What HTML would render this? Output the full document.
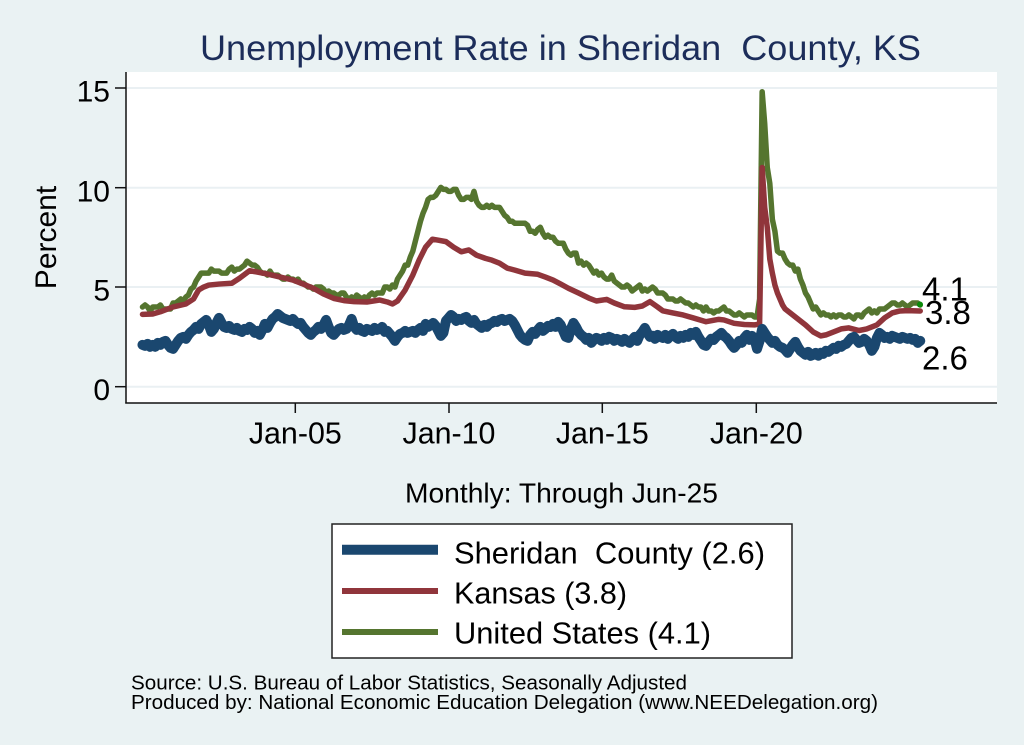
<!DOCTYPE html>
<html>
<head>
<meta charset="utf-8">
<style>
  html,body{margin:0;padding:0;background:#eaf2f3;}
  svg{display:block;}
  text{font-family:"Liberation Sans", Arial, Helvetica, sans-serif;}
</style>
</head>
<body>
<svg width="1024" height="745" viewBox="0 0 1024 745" xmlns="http://www.w3.org/2000/svg">
  <rect x="0" y="0" width="1024" height="745" fill="#eaf2f3"/>
  <!-- Title -->
  <text x="200" y="60" font-size="35.5" fill="#1c2d5a" textLength="721" lengthAdjust="spacingAndGlyphs">Unemployment Rate in Sheridan&#160; County, KS</text>

  <!-- plot region -->
  <rect x="126" y="72" width="871" height="331" fill="#ffffff"/>
  <!-- gridlines -->
  <g stroke="#eaf0f3" stroke-width="2">
    <line x1="126" y1="88" x2="997" y2="88"/>
    <line x1="126" y1="187.7" x2="997" y2="187.7"/>
    <line x1="126" y1="287" x2="997" y2="287"/>
    <line x1="126" y1="386.7" x2="997" y2="386.7"/>
  </g>

  <!-- series -->
  <g transform="translate(142.5,386.7) scale(2.55,-19.93)" fill="none" stroke-linejoin="round" stroke-linecap="round">
    <polyline vector-effect="non-scaling-stroke" stroke="#55752f" stroke-width="5.5" points="0,4 1,4.1 2,4 3,3.8 4,4 5,4 6,4 7,4.1 8,3.9 9,3.9 10,3.9 11,3.9 12,4.2 13,4.2 14,4.3 15,4.4 16,4.3 17,4.5 18,4.6 19,4.9 20,5 21,5.3 22,5.5 23,5.7 24,5.7 25,5.7 26,5.7 27,5.9 28,5.8 29,5.8 30,5.8 31,5.7 32,5.7 33,5.7 34,5.9 35,6 36,5.8 37,5.9 38,5.9 39,6 40,6.1 41,6.3 42,6.2 43,6.1 44,6.1 45,6 46,5.8 47,5.7 48,5.7 49,5.6 50,5.8 51,5.6 52,5.6 53,5.6 54,5.5 55,5.4 56,5.4 57,5.5 58,5.4 59,5.4 60,5.3 61,5.4 62,5.2 63,5.2 64,5.1 65,5 66,5 67,4.9 68,5 69,5 70,5 71,4.9 72,4.7 73,4.8 74,4.7 75,4.7 76,4.6 77,4.6 78,4.7 79,4.7 80,4.5 81,4.4 82,4.5 83,4.4 84,4.6 85,4.5 86,4.4 87,4.5 88,4.4 89,4.6 90,4.7 91,4.6 92,4.7 93,4.7 94,4.7 95,5 96,5 97,4.9 98,5.1 99,5 100,5.4 101,5.6 102,5.8 103,6.1 104,6.1 105,6.5 106,6.8 107,7.3 108,7.8 109,8.3 110,8.7 111,9 112,9.4 113,9.5 114,9.5 115,9.6 116,9.8 117,10 118,9.9 119,9.9 120,9.8 121,9.8 122,9.9 123,9.9 124,9.6 125,9.4 126,9.4 127,9.5 128,9.5 129,9.4 130,9.8 131,9.3 132,9.1 133,9 134,9 135,9.1 136,9 137,9.1 138,9 139,9 140,9 141,8.8 142,8.6 143,8.5 144,8.3 145,8.3 146,8.2 147,8.2 148,8.2 149,8.2 150,8.2 151,8.1 152,7.8 153,7.8 154,7.7 155,7.9 156,8 157,7.7 158,7.5 159,7.6 160,7.5 161,7.5 162,7.3 163,7.2 164,7.2 165,7.2 166,6.9 167,6.7 168,6.6 169,6.7 170,6.7 171,6.2 172,6.3 173,6.1 174,6.2 175,6.1 176,5.9 177,5.7 178,5.8 179,5.6 180,5.7 181,5.5 182,5.4 183,5.4 184,5.6 185,5.3 186,5.2 187,5.1 188,5 189,5 190,5.1 191,5 192,4.8 193,4.9 194,5 195,5.1 196,4.8 197,4.9 198,4.8 199,4.9 200,5 201,4.9 202,4.7 203,4.7 204,4.7 205,4.6 206,4.4 207,4.4 208,4.4 209,4.3 210,4.3 211,4.4 212,4.3 213,4.2 214,4.2 215,4.1 216,4 217,4.1 218,4 219,4 220,3.8 221,4 222,3.8 223,3.8 224,3.7 225,3.8 226,3.8 227,3.9 228,4 229,3.8 230,3.8 231,3.7 232,3.6 233,3.6 234,3.7 235,3.6 236,3.5 237,3.6 238,3.6 239,3.6 240,3.5 241,3.5 242,4.4 243,14.8 244,13.2 245,11 246,10.2 247,8.4 248,7.8 249,6.8 250,6.7 251,6.7 252,6.4 253,6.2 254,6.1 255,6.1 256,5.8 257,5.9 258,5.4 259,5.1 260,4.7 261,4.5 262,4.2 263,3.9 264,4 265,3.8 266,3.6 267,3.7 268,3.6 269,3.6 270,3.5 271,3.6 272,3.5 273,3.6 274,3.6 275,3.5 276,3.5 277,3.6 278,3.5 279,3.4 280,3.6 281,3.6 282,3.5 283,3.7 284,3.8 285,3.9 286,3.7 287,3.8 288,3.7 289,3.9 290,3.9 291,3.9 292,4 293,4.1 294,4.2 295,4.2 296,4.1 297,4.1 298,4.2 299,4.1 300,4 301,4.1 302,4.2 303,4.2 304,4.2 305,4.1"/>
    <polyline vector-effect="non-scaling-stroke" stroke="#90353b" stroke-width="5.5" points="0,3.63 4,3.65 7,3.76 12,4 17,4.15 20,4.4 22,4.85 24,5 26,5.1 30,5.15 35,5.19 38,5.44 42,5.82 45,5.75 49,5.65 54,5.5 59,5.35 63,5.15 67,4.94 71,4.65 75,4.43 79,4.32 83,4.27 88,4.25 93,4.35 96,4.25 98,4.15 100,4.3 103,4.85 106,5.6 108.5,6.36 111,7 113.7,7.4 116,7.35 119,7.28 122,7 125,6.77 128,6.86 131,6.6 134.5,6.44 137,6.35 140,6.2 143,5.95 146,5.85 150,5.7 155,5.64 158,5.5 161,5.35 164,5.15 167,4.94 171,4.7 175,4.45 178,4.3 182,4.38 185,4.2 189,4.01 193,3.98 196,4.05 199,4.27 202,4 204,3.81 208,3.7 212,3.6 216,3.45 221,3.26 226,3.38 228,3.35 232,3.18 236,3.12 240,3.1 242,3.15 243,11 244,9 245,8 246,6.4 247,5.7 248,5.1 249,4.7 250,4.4 251,4.1 252,3.9 254,3.7 257,3.4 260,3.1 263,2.75 266,2.55 268,2.6 271,2.75 274,2.9 277,2.95 281,2.82 284,2.9 288,3.1 291,3.45 294,3.7 297,3.8 300,3.82 305,3.8"/>
    <polyline vector-effect="non-scaling-stroke" stroke="#1a476f" stroke-width="10" points="0,2.1 1,2.05 2,2.15 3,2 4,2.1 5,2 6,2.2 7,2.1 8,2.25 9,2.3 10,2.1 11,1.95 12,1.9 13,2.1 14,2.3 15,2.45 16,2.5 17,2.4 18,2.6 19,2.75 20,2.85 21,3 22,2.9 23,3.15 24,3.25 25,3.35 26,3.1 27,2.75 28,2.9 29,3.2 30,3.45 31,3.2 32,3 33,2.95 34,3.05 35,2.9 36,2.85 37,2.95 38,2.8 39,2.75 40,2.9 41,2.85 42,3 43,2.9 44,2.7 45,2.8 46,2.6 47,2.85 48,3.15 49,2.95 50,3.2 51,3.4 52,3.5 53,3.65 54,3.55 55,3.45 56,3.4 57,3.35 58,3.3 59,3.4 60,3.25 61,3.15 62,3.2 63,3 64,2.85 65,2.7 66,2.6 67,2.75 68,2.85 69,3 70,2.9 71,3.1 72,3.35 73,3 74,2.7 75,2.6 76,2.75 77,2.9 78,2.95 79,2.85 80,2.9 81,3.1 82,3.4 83,3 84,2.85 85,2.95 86,2.8 87,2.75 88,2.9 89,2.85 90,2.8 91,2.95 92,2.85 93,2.9 94,3 95,2.75 96,2.8 97,2.65 98,2.5 99,2.3 100,2.5 101,2.65 102,2.7 103,2.8 104,2.7 105,2.75 106,2.8 107,2.7 108,2.85 109,2.95 110,2.8 111,3.15 112,3 113,3.1 114,3.2 115,3.05 116,2.8 117,2.55 118,2.7 119,3.3 120,3.45 121,3.6 122,3.5 123,3.3 124,3.4 125,3.35 126,3.45 127,3.5 128,3.3 129,3.2 130,3.35 131,3.15 132,3.05 133,2.95 134,3.1 135,3 136,3.15 137,3.2 138,3.3 139,3.25 140,3.35 141,3.4 142,3.3 143,3.35 144,3.4 145,3.3 146,3.1 147,2.85 148,2.6 149,2.45 150,2.35 151,2.3 152,2.6 153,2.75 154,2.65 155,2.85 156,3 157,2.8 158,2.9 159,3.05 160,3 161,3.15 162,3 163,3.25 164,3.1 165,2.8 166,2.5 167,2.45 168,2.9 169,3.2 170,3 171,2.75 172,2.6 173,2.5 174,2.35 175,2.45 176,2.2 177,2.35 178,2.45 179,2.4 180,2.3 181,2.45 182,2.35 183,2.5 184,2.45 185,2.3 186,2.4 187,2.35 188,2.25 189,2.4 190,2.3 191,2.2 192,2.35 193,2.5 194,2.3 195,2.6 196,2.75 197,2.95 198,2.7 199,2.5 200,2.55 201,2.4 202,2.6 203,2.5 204,2.45 205,2.6 206,2.4 207,2.55 208,2.65 209,2.5 210,2.4 211,2.55 212,2.45 213,2.6 214,2.5 215,2.7 216,2.6 217,2.75 218,2.5 219,2.3 220,2.1 221,2.05 222,2.25 223,2.4 224,2.35 225,2.5 226,2.6 227,2.7 228,2.55 229,2.45 230,2.3 231,2.1 232,1.95 233,2.1 234,2.3 235,2.2 236,2.45 237,2.6 238,2.35 239,2.55 240,2.4 241,1.9 242,2.3 243,2.9 244,2.7 245,2.5 246,2.35 247,2.2 248,2.3 249,2.1 250,2 251,1.95 252,1.85 253,1.7 254,1.9 255,2.1 256,2.25 257,2 258,1.8 259,1.7 260,1.6 261,1.75 262,1.55 263,1.6 264,1.7 265,1.55 266,1.7 267,1.65 268,1.8 269,1.75 270,1.85 271,1.95 272,1.9 273,2.05 274,2 275,2.1 276,2.15 277,2.3 278,2.45 279,2.5 280,2.35 281,2.2 282,2.25 283,2.4 284,2.3 285,2.1 286,1.8 287,2 288,2.45 289,2.7 290,2.6 291,2.45 292,2.5 293,2.4 294,2.55 295,2.5 296,2.45 297,2.4 298,2.5 299,2.45 300,2.4 301,2.45 302,2.35 303,2.4 304,2.2 305,2.3"/>
  </g>
  <circle cx="920" cy="304.5" r="3" fill="#0a8a0a"/>

  <!-- axes -->
  <g stroke="#111" stroke-width="1.5" fill="none">
    <line x1="126" y1="72" x2="126" y2="403.5"/>
    <line x1="125.3" y1="403" x2="997" y2="403"/>
    <line x1="115" y1="88" x2="126" y2="88"/>
    <line x1="115" y1="187.7" x2="126" y2="187.7"/>
    <line x1="115" y1="287" x2="126" y2="287"/>
    <line x1="115" y1="386.7" x2="126" y2="386.7"/>
    <line x1="295.3" y1="403" x2="295.3" y2="413"/>
    <line x1="449" y1="403" x2="449" y2="413"/>
    <line x1="602.3" y1="403" x2="602.3" y2="413"/>
    <line x1="756.3" y1="403" x2="756.3" y2="413"/>
  </g>

  <!-- y tick labels -->
  <g font-size="30" fill="#000" text-anchor="end">
    <text x="110" y="101.5">15</text>
    <text x="110" y="201.5">10</text>
    <text x="110" y="300.5">5</text>
    <text x="110" y="400">0</text>
  </g>
  <text transform="translate(56,237.5) rotate(-90)" font-size="30" fill="#000" text-anchor="middle">Percent</text>

  <!-- x tick labels -->
  <g font-size="30.4" fill="#000" text-anchor="middle">
    <text x="295.3" y="443.5">Jan-05</text>
    <text x="449" y="443.5">Jan-10</text>
    <text x="602.3" y="443.5">Jan-15</text>
    <text x="756.3" y="443.5">Jan-20</text>
  </g>

  <!-- end labels -->
  <g font-size="33" fill="#000">
    <text x="922" y="300.5">4.1</text>
    <text x="925" y="324">3.8</text>
    <text x="922" y="369.5">2.6</text>
  </g>

  <text x="405" y="502.5" font-size="28" fill="#000" textLength="313" lengthAdjust="spacingAndGlyphs">Monthly: Through Jun-25</text>

  <!-- legend -->
  <rect x="332" y="524" width="460" height="134" fill="#ffffff" stroke="#222" stroke-width="1.5"/>
  <line x1="342" y1="549.7" x2="438" y2="549.7" stroke="#1a476f" stroke-width="10"/>
  <line x1="342" y1="591" x2="438" y2="591" stroke="#90353b" stroke-width="6"/>
  <line x1="342" y1="632" x2="438" y2="632" stroke="#55752f" stroke-width="6"/>
  <g font-size="30.5" fill="#000">
    <text x="454" y="563.5" textLength="311" lengthAdjust="spacingAndGlyphs">Sheridan&#160; County (2.6)</text>
    <text x="454" y="603.5" textLength="173" lengthAdjust="spacingAndGlyphs">Kansas (3.8)</text>
    <text x="454" y="643.5" textLength="257" lengthAdjust="spacingAndGlyphs">United States (4.1)</text>
  </g>

  <!-- source -->
  <g font-size="20.5" fill="#000">
    <text x="131" y="689.5" textLength="556" lengthAdjust="spacingAndGlyphs">Source: U.S. Bureau of Labor Statistics, Seasonally Adjusted</text>
    <text x="131" y="709" textLength="747" lengthAdjust="spacingAndGlyphs">Produced by: National Economic Education Delegation (www.NEEDelegation.org)</text>
  </g>
</svg>
</body>
</html>
